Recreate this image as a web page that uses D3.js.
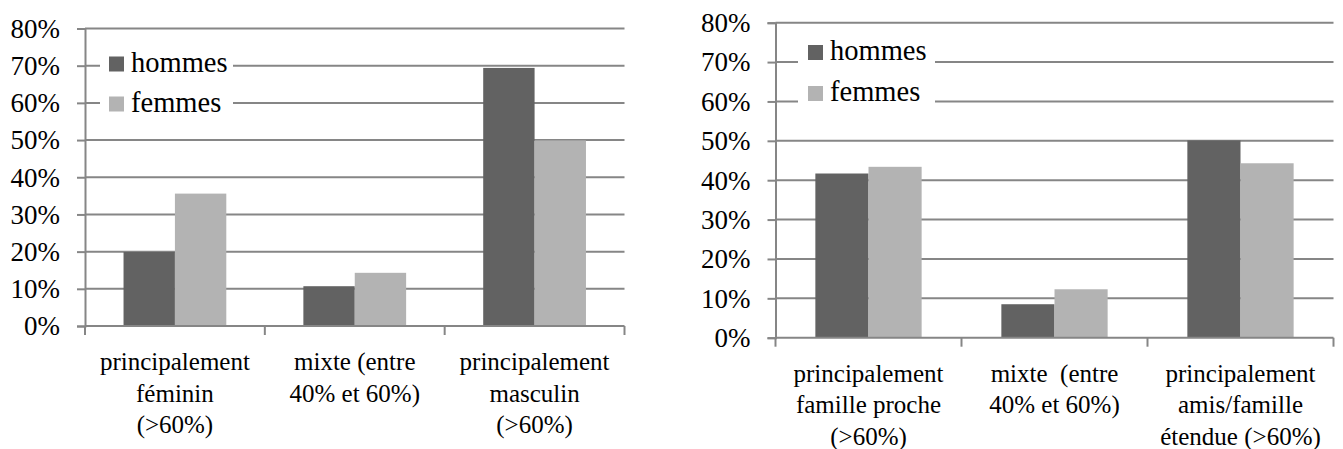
<!DOCTYPE html>
<html>
<head>
<meta charset="utf-8">
<script src="https://cdn.jsdelivr.net/npm/d3@7"></script>
<style>
  html, body { margin: 0; padding: 0; background: #fff; }
  svg { display: block; }
  svg text { font-family: "Liberation Serif", "DejaVu Serif", serif; fill: #000; }
</style>
</head>
<body>
<svg id="chart" width="1343" height="449"></svg>
<script>
const series = ['hommes', 'femmes']
const yTicks = [0, 0.1, 0.2, 0.3, 0.4, 0.5, 0.6, 0.7, 0.8]

const categoriesLeft = [
  'principalement\nféminin\n(>60%)',
  'mixte (entre\n40% et 60%)',
  'principalement\nmasculin\n(>60%)',
]
const hommesLeft = [0.199, 0.107, 0.694]
const femmesLeft = [0.356, 0.143, 0.499]

const categoriesRight = [
  'principalement\nfamille proche\n(>60%)',
  'mixte  (entre\n40% et 60%)',
  'principalement\namis/famille\nétendue (>60%)',
]
const hommesRight = [0.417, 0.085, 0.501]
const femmesRight = [0.434, 0.123, 0.443]

const colors = { hommes: '#626262', femmes: '#b3b3b3' }
const gridColor = '#868686'
const fontStack = '"Liberation Serif", "DejaVu Serif", serif'

const svg = d3.select('#chart')

const drawPanel = (opts) => {
  const { left, right, top, bottom, categories, hommes, femmes, legend } = opts
  const g = svg.append('g')

  const x = d3.scaleBand().domain(d3.range(categories.length)).range([left, right])
  const xs = d3.scaleBand().domain(series).range([0, x.bandwidth()]).paddingOuter(0.75)
  const y = d3.scaleLinear().domain([0, 0.8]).range([bottom, top])

  // gridlines
  g.append('g')
    .selectAll('line')
    .data(yTicks.filter((d) => d > 0))
    .join('line')
    .attr('x1', left)
    .attr('x2', right)
    .attr('y1', (d) => y(d))
    .attr('y2', (d) => y(d))
    .attr('stroke', gridColor)
    .attr('stroke-width', 2)

  // legend background hides the gridlines behind it
  g.append('rect')
    .attr('x', legend.x)
    .attr('y', legend.y)
    .attr('width', legend.w)
    .attr('height', legend.h)
    .attr('fill', '#fff')

  const rows = categories.map((c, i) => ({ i, hommes: hommes[i], femmes: femmes[i] }))
  g.append('g')
    .selectAll('g')
    .data(rows)
    .join('g')
    .attr('transform', (d) => `translate(${x(d.i)},0)`)
    .selectAll('rect')
    .data((d) => series.map((s) => ({ s, v: d[s] })))
    .join('rect')
    .attr('x', (d) => xs(d.s))
    .attr('width', xs.bandwidth())
    .attr('y', (d) => y(d.v))
    .attr('height', (d) => y(0) - y(d.v))
    .attr('fill', (d) => colors[d.s])

  // y axis
  const yAxis = g.append('g')
    .attr('transform', `translate(${left},0)`)
    .call(d3.axisLeft(y).tickValues(yTicks).tickFormat(d3.format('.0%')).tickSize(8).tickPadding(17))
  yAxis.attr('font-family', null).attr('font-size', null)
  yAxis.select('.domain').attr('stroke', gridColor).attr('stroke-width', 2)
  yAxis.selectAll('.tick line').attr('stroke', gridColor).attr('stroke-width', 2)
  yAxis.selectAll('.tick text')
    .style('font-family', fontStack)
    .style('font-size', '27px')
    .attr('fill', '#000')
    .attr('dy', '0.33em')

  // x axis
  const xAxis = g.append('g').attr('transform', `translate(0,${bottom})`)
  xAxis.append('line')
    .attr('x1', left).attr('x2', right)
    .attr('stroke', gridColor).attr('stroke-width', 2)
  xAxis.selectAll('line.tk')
    .data(d3.range(categories.length + 1))
    .join('line')
    .attr('class', 'tk')
    .attr('x1', (i) => left + i * x.step())
    .attr('x2', (i) => left + i * x.step())
    .attr('y1', 0)
    .attr('y2', 9)
    .attr('stroke', gridColor)
    .attr('stroke-width', 2)

  xAxis.selectAll('text.cat')
    .data(categories)
    .join('text')
    .attr('class', 'cat')
    .attr('text-anchor', 'middle')
    .attr('x', (d, i) => x(i) + x.bandwidth() / 2)
    .attr('y', 44)
    .style('font-family', fontStack)
    .style('font-size', '25px')
    .style('white-space', 'pre')
    .selectAll('tspan')
    .data((d) => d.split('\n'))
    .join('tspan')
    .attr('x', function () { return this.parentNode.getAttribute('x') })
    .attr('dy', (d, i) => (i === 0 ? 0 : 31.5))
    .text((d) => d)

  // legend
  const lg = g.append('g')
    .selectAll('g')
    .data(series)
    .join('g')
    .attr('transform', (d, i) => `translate(${legend.mx},${legend.baseline + i * legend.gap})`)
  lg.append('rect')
    .attr('x', 0)
    .attr('y', -15)
    .attr('width', 15)
    .attr('height', 15)
    .attr('fill', (d) => colors[d])
  lg.append('text')
    .attr('x', 22)
    .attr('y', 0)
    .style('font-family', fontStack)
    .style('font-size', '28.5px')
    .text((d) => d)
}

drawPanel({
  left: 85, right: 624.5, top: 28.5, bottom: 326,
  categories: categoriesLeft, hommes: hommesLeft, femmes: femmesLeft,
  legend: { x: 100, y: 44, w: 133, h: 76, mx: 109, baseline: 71.5, gap: 40 },
})

drawPanel({
  left: 775.5, right: 1333.5, top: 22.7, bottom: 337.7,
  categories: categoriesRight, hommes: hommesRight, femmes: femmesRight,
  legend: { x: 798, y: 36, w: 137, h: 78, mx: 808, baseline: 60, gap: 41 },
})
</script>
</body>
</html>
